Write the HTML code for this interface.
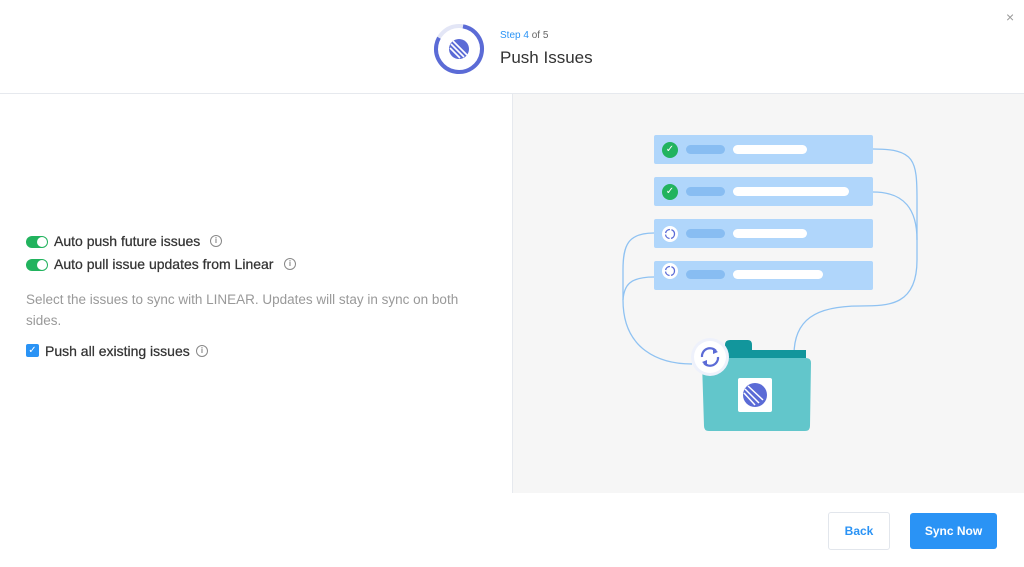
<!DOCTYPE html>
<html><head><style>
body{margin:0;width:1024px;height:567px;background:#fff;font-family:"Liberation Sans",sans-serif;position:relative;overflow:hidden}
.abs{position:absolute}
.t{color:#333;font-size:14px;font-weight:normal;-webkit-text-stroke:0.25px #333}
.tog{width:22px;height:12px;border-radius:6px;background:#22b35e;position:absolute}
.tog:after{content:"";position:absolute;right:1px;top:1px;width:10px;height:10px;border-radius:5px;background:#fff}
.info{position:absolute;width:10px;height:10px;border:1.3px solid #888;border-radius:50%;font-size:8px;color:#888;text-align:center;line-height:10px;font-weight:bold}
</style></head><body>
<div class="abs" style="left:0;top:93px;width:1024px;height:1px;background:#e6e9ee"></div>
<div class="abs" style="left:512px;top:94px;width:512px;height:399px;background:#f6f6f6;border-left:1px solid #e6e9ee"></div>
<svg class="abs" style="left:432px;top:22px" width="54" height="54">
<circle cx="27" cy="27" r="23" fill="none" stroke="#e3e6f6" stroke-width="4"/>
<circle cx="27" cy="27" r="23" fill="none" stroke="#5b6bd6" stroke-width="4" stroke-dasharray="116 200" transform="rotate(-80 27 27)"/>
<circle cx="27" cy="27" r="10" fill="#5b6bd6"/>
<path d="M18 26 L28 36 M19 22 L32 35 M21 19 L35 33" stroke="#fff" stroke-width="1.6"/>
</svg>
<div class="abs" style="left:500px;top:30px;font-size:10px;color:#666"><span style="color:#2a93f5">Step 4</span> of 5</div>
<div class="abs" style="left:500px;top:48px;font-size:17px;color:#333">Push Issues</div>
<div class="abs" style="left:1006px;top:9px;font-size:14px;color:#999">×</div>

<div class="tog" style="left:26px;top:236px"></div>
<div class="abs t" style="left:54px;top:233px">Auto push future issues</div><div class="info" style="left:210px;top:235px">i</div>
<div class="tog" style="left:26px;top:259px"></div>
<div class="abs t" style="left:54px;top:256px">Auto pull issue updates from Linear</div><div class="info" style="left:284px;top:258px">i</div>
<div class="abs" style="left:26px;top:289px;width:450px;font-size:13.5px;color:#999;line-height:21px">Select the issues to sync with LINEAR. Updates will stay in sync on both sides.</div>
<div class="abs" style="left:26px;top:344px;width:13px;height:13px;background:#2a93f5;border-radius:2px;color:#fff;font-size:10px;text-align:center;line-height:13px">✓</div>
<div class="abs t" style="left:45px;top:343px">Push all existing issues</div><div class="info" style="left:196px;top:345px">i</div>

<svg class="abs" style="left:512px;top:94px" width="512" height="400">
<g transform="translate(-512,-94)" fill="none" stroke="#8fc2f2" stroke-width="1.3">
<path d="M873 149 C915 149 917 160 917 200 L917 260 C917 305 890 306 860 306 C815 306 794 320 794 355"/>
<path d="M873 192 C905 192 917 210 917 240"/>
<path d="M654 233 C628 233 623 245 623 270 L623 300 C623 350 660 364 692 364"/>
<path d="M654 277 C630 277 624 285 623 300"/>
</g>
</svg>
<div class="abs" style="left:654px;top:135px;width:219px;height:29px;background:#b0d6fb;border-radius:2px"></div>
<div class="abs" style="left:654px;top:177px;width:219px;height:29px;background:#b0d6fb;border-radius:2px"></div>
<div class="abs" style="left:654px;top:219px;width:219px;height:29px;background:#b0d6fb;border-radius:2px"></div>
<div class="abs" style="left:654px;top:261px;width:219px;height:29px;background:#b0d6fb;border-radius:2px"></div>
<div class="abs" style="left:686px;top:145px;width:39px;height:9px;background:#88bdf2;border-radius:5px"></div>
<div class="abs" style="left:733px;top:145px;width:74px;height:9px;background:#fff;border-radius:5px"></div>
<div class="abs" style="left:686px;top:187px;width:39px;height:9px;background:#88bdf2;border-radius:5px"></div>
<div class="abs" style="left:733px;top:187px;width:116px;height:9px;background:#fff;border-radius:5px"></div>
<div class="abs" style="left:686px;top:229px;width:39px;height:9px;background:#88bdf2;border-radius:5px"></div>
<div class="abs" style="left:733px;top:229px;width:74px;height:9px;background:#fff;border-radius:5px"></div>
<div class="abs" style="left:686px;top:270px;width:39px;height:9px;background:#88bdf2;border-radius:5px"></div>
<div class="abs" style="left:733px;top:270px;width:90px;height:9px;background:#fff;border-radius:5px"></div>
<div class="abs" style="left:662px;top:142px;width:16px;height:16px;border-radius:50%;background:#22b35e;color:#fff;font-size:10px;text-align:center;line-height:16px">✓</div>
<div class="abs" style="left:662px;top:184px;width:16px;height:16px;border-radius:50%;background:#22b35e;color:#fff;font-size:10px;text-align:center;line-height:16px">✓</div>
<svg class="abs" style="left:661px;top:225px" width="18" height="18"><circle cx="9" cy="9" r="8" fill="#fff"/><circle cx="9" cy="9" r="4.5" fill="none" stroke="#5b6bd6" stroke-width="1.3" stroke-dasharray="6 1.5"/></svg>
<svg class="abs" style="left:661px;top:262px" width="18" height="18"><circle cx="9" cy="9" r="8" fill="#fff"/><circle cx="9" cy="9" r="4.5" fill="none" stroke="#5b6bd6" stroke-width="1.3" stroke-dasharray="6 1.5"/></svg>

<svg class="abs" style="left:680px;top:330px" width="150" height="110">
<path d="M45 15 Q45 10 50 10 L68 10 Q72 10 72 15 L72 20 L126 20 L126 28 L45 28Z" fill="#12969c"/>
<path d="M22 32 Q22 28 27 28 L126 28 Q131 28 131 33 L130 96 Q130 101 125 101 L29 101 Q24 101 24 96Z" fill="#62c6cb"/>
<rect x="58" y="48" width="34" height="34" rx="2" fill="#fff"/>
<circle cx="75" cy="65" r="12" fill="#5b6bd6"/>
<path d="M64 63 L75 75 M65 59 L79 73 M68 56 L83 70" stroke="#fff" stroke-width="1.5"/>
<circle cx="30" cy="27" r="19" fill="#eef1fb"/>
<circle cx="30" cy="27" r="16" fill="#fff"/>
<path d="M22 27 A8 8 0 0 1 36 21 M38 27 A8 8 0 0 1 24 33" fill="none" stroke="#5b6bd6" stroke-width="2.2"/>
<path d="M33 18 L38 22 L33 24Z M27 36 L22 32 L27 30Z" fill="#5b6bd6"/>
</svg>

<div class="abs" style="left:828px;top:512px;width:60px;height:36px;border:1px solid #e2e6ec;border-radius:3px;color:#2a93f5;font-size:12px;font-weight:bold;text-align:center;line-height:36px">Back</div>
<div class="abs" style="left:910px;top:513px;width:87px;height:36px;background:#2a93f5;border-radius:3px;color:#fff;font-size:12px;font-weight:bold;text-align:center;line-height:36px">Sync Now</div>
</body></html>
